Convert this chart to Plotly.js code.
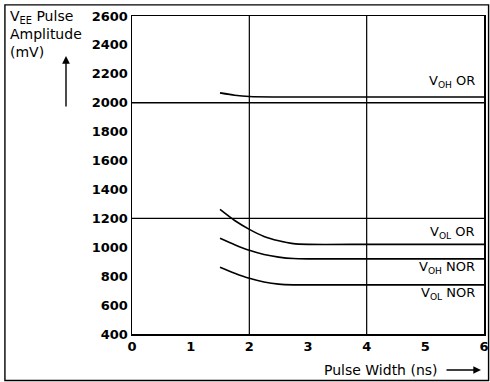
<!DOCTYPE html>
<html>
<head>
<meta charset="utf-8">
<script src="https://cdn.plot.ly/plotly-3.0.1.min.js"></script>
<style>html,body{margin:0;padding:0;background:#fff;}#chart{width:490px;height:382px;}</style>
</head>
<body>
<div id="chart"></div>
<script>
// ---- data ----
const xTicks = [0, 1, 2, 3, 4, 5, 6];
const yTicks = [400, 600, 800, 1000, 1200, 1400, 1600, 1800, 2000, 2200, 2400, 2600];
const gridX = [2, 4];
const refLevels = [2000, 1200];

const vohOrX = [1.5, 1.75, 2, 2.5, 3, 4, 5, 6];
const vohOrY = [2068, 2052, 2043, 2040, 2040, 2040, 2040, 2040];

const volOrX = [1.5, 1.75, 2, 2.25, 2.5, 2.75, 3, 4, 5, 6];
const volOrY = [1262, 1185, 1124, 1075, 1045, 1025, 1020, 1020, 1020, 1020];

const vohNorX = [1.5, 1.75, 2, 2.25, 2.5, 2.75, 3, 4, 5, 6];
const vohNorY = [1062, 1018, 979, 950, 932, 922, 920, 920, 920, 920];

const volNorX = [1.5, 1.75, 2, 2.25, 2.5, 2.75, 3, 4, 5, 6];
const volNorY = [861, 820, 785, 760, 745, 740, 740, 740, 740, 740];

const curveLabels = ['V<sub>OH</sub> OR', 'V<sub>OL</sub> OR', 'V<sub>OH</sub> NOR', 'V<sub>OL</sub> NOR'];
const curveLabelY = [2144, 1105, 862, 680];
const curveLabelX = 5.88;

// ---- build chart ----
const FONT = 'DejaVu Sans, Liberation Sans, Arial, sans-serif';
const lineStyle = {color: '#000', width: 1.6, shape: 'spline', smoothing: 0.6};

const traces = [];
refLevels.forEach(v => {
  traces.push({x: [xTicks[0], xTicks[xTicks.length - 1]], y: [v, v], mode: 'lines',
    line: {color: '#000', width: 1.4}, hoverinfo: 'skip', showlegend: false});
});
[[vohOrX, vohOrY], [volOrX, volOrY], [vohNorX, vohNorY], [volNorX, volNorY]].forEach(([xs, ys]) => {
  traces.push({x: xs, y: ys, mode: 'lines', line: lineStyle, showlegend: false});
});

const shapes = gridX.map(g => ({type: 'line', xref: 'x', yref: 'paper', x0: g, x1: g, y0: 0, y1: 1,
  line: {color: '#000', width: 1.2}}));
// outer frame of the figure
shapes.push({type: 'rect', xref: 'paper', yref: 'paper', x0: -0.361, x1: 1.013, y0: -0.146, y1: 1.035,
  line: {color: '#000', width: 1.4}});

const annotations = curveLabels.map((t, i) => ({
  x: curveLabelX, y: curveLabelY[i], xref: 'x', yref: 'y', text: t, showarrow: false,
  xanchor: 'right', yanchor: 'middle', font: {family: FONT, size: 13, color: '#000'}
}));
// y-axis title block (top-left)
annotations.push({xref: 'paper', yref: 'paper', x: -0.352, y: 1.03, xanchor: 'left', yanchor: 'top',
  align: 'left', showarrow: false, text: 'V<sub>EE</sub> Pulse<br>Amplitude<br>(mV)',
  font: {family: FONT, size: 14, color: '#000'}});
annotations.push({xref: 'paper', yref: 'paper', x: (66 - 132) / 352, y: (334 - 56) / 318,
  text: '', showarrow: true, ax: 0, ay: 52, arrowhead: 2, arrowsize: 1.1, arrowwidth: 1.4, arrowcolor: '#000'});
// x-axis title
annotations.push({xref: 'paper', yref: 'paper', x: (440 - 132) / 352, y: (334 - 370) / 318,
  xanchor: 'right', yanchor: 'middle', showarrow: false, text: 'Pulse Width (ns)',
  font: {family: FONT, size: 14, color: '#000'}});
annotations.push({xref: 'paper', yref: 'paper', x: (481 - 132) / 352, y: (334 - 370) / 318,
  text: '', showarrow: true, ax: -36, ay: 0, arrowhead: 2, arrowsize: 1.1, arrowwidth: 1.4, arrowcolor: '#000'});

const layout = {
  width: 490, height: 382,
  margin: {l: 132, r: 6, t: 16, b: 48},
  paper_bgcolor: '#fff', plot_bgcolor: '#fff',
  showlegend: false,
  xaxis: {range: [0, 6], tickvals: xTicks, ticktext: xTicks.map(String), showgrid: false, zeroline: false,
    showline: true, mirror: true, linecolor: '#000', linewidth: 1.5, ticks: '',
    tickfont: {family: FONT, size: 13, color: '#000', weight: 'bold'}},
  yaxis: {range: [400, 2600], tickvals: yTicks, ticktext: yTicks.map(String), showgrid: false, zeroline: false,
    showline: true, mirror: true, linecolor: '#000', linewidth: 1.5, ticks: '',
    tickfont: {family: FONT, size: 13, color: '#000', weight: 'bold'}},
  shapes: shapes,
  annotations: annotations
};

Plotly.newPlot('chart', traces, layout, {displayModeBar: false, staticPlot: true});
</script>
</body>
</html>
